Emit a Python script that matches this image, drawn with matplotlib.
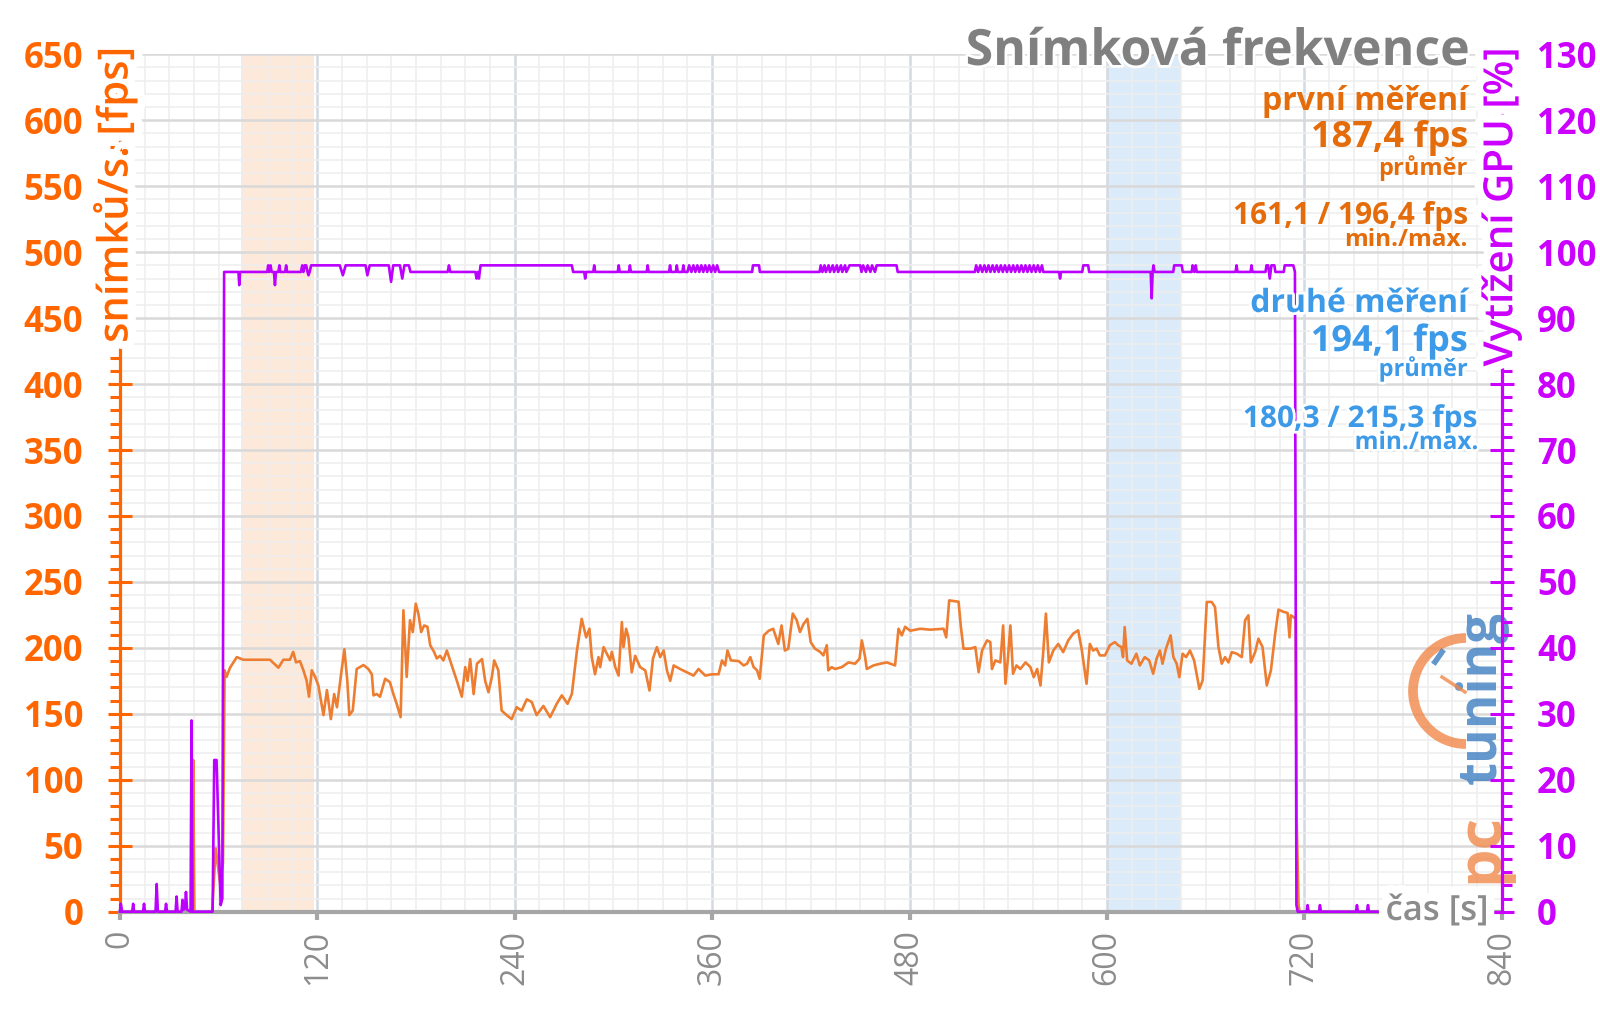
import matplotlib
matplotlib.use('Agg')
import matplotlib.pyplot as plt
import matplotlib.patheffects as pe
from matplotlib.ticker import MultipleLocator
from matplotlib.patches import Arc

plt.rcParams['font.family'] = ['Open Sans', 'DejaVu Sans']

# frame rate over time: (s, fps)
fps_series = [
    (0, 0), (43.8, 0), (44.5, 115), (45.2, 0), (56, 0), (58.2, 48), (60.8, 22), (62.6, 37), (63.6, 183),
    (64.8, 178), (66.9, 185), (71, 193), (75, 191), (83.1, 191), (91.2, 191), (96.3, 185), (99.3, 191),
    (103.3, 191), (105.3, 197), (107, 189), (109.4, 190), (111.5, 183), (113.5, 175), (114.9, 163),
    (116.6, 183), (118.6, 178), (120.6, 171.5), (123.7, 149), (125.8, 168), (128.2, 146), (130.2, 165),
    (131.9, 155), (134.2, 178), (136.4, 199), (138.2, 175), (139.4, 149), (141.5, 152.5), (143.9, 184),
    (148, 187), (151, 184), (153.1, 180), (154.1, 164), (156.1, 165), (158.1, 163), (161.2, 176.6),
    (164.1, 174), (166.2, 165), (168.2, 157.6), (170.6, 147.5), (172.3, 228.5), (174.3, 178),
    (176.3, 221), (178, 212), (179.8, 233.5), (181.4, 226), (183.1, 212), (184.9, 217), (186.9, 216),
    (188.6, 202), (190.9, 197), (192.6, 192), (194.6, 194), (196.6, 190.5), (198.7, 198), (200.7, 190.5),
    (204.8, 175), (207.8, 163), (209.9, 185.4), (211.3, 175), (212.9, 191.5), (215, 165), (217, 188),
    (220.1, 191.5), (222, 175), (224, 166.4), (226.1, 178), (227.5, 190.5), (230, 183), (232, 152.5),
    (235.1, 149), (238.1, 146), (241.2, 155), (244.2, 152.5), (247.3, 161), (250.3, 159), (253.3, 149),
    (257.4, 156), (261.5, 147.5), (265.5, 157.6), (268.6, 164), (272.1, 157.6), (274.7, 165),
    (277.8, 198), (280.7, 222), (283.4, 208), (285.4, 214.5), (286.8, 193), (288.8, 180), (290.9, 193),
    (291.9, 185.4), (294, 200.6), (296, 195.6), (298, 190.5), (299, 197), (301.1, 185.4), (303.1, 179),
    (305.1, 219.6), (306.1, 200.6), (307.7, 214.5), (309.1, 208), (311.1, 181.5), (313.2, 194),
    (316.2, 185.4), (319.3, 183), (321.9, 167.7), (324, 191.8), (326.4, 200.6), (328.4, 193),
    (330.5, 198), (332.5, 183), (334.5, 175), (336.6, 186.7), (340.5, 184), (344.6, 181.5), (348.7, 179),
    (351.7, 184), (355.8, 179), (359.9, 180), (363.9, 180), (366, 190.5), (367.9, 186.7), (369.3, 198),
    (371.4, 190.5), (376.1, 190), (379.1, 186.7), (381.2, 188), (383.2, 193), (385.2, 185.4),
    (387.3, 183), (388.9, 176.6), (391.4, 209.5), (394.4, 213), (397.1, 214.5), (400.2, 203),
    (402.2, 217), (404.2, 198), (406.3, 199.4), (409, 226), (411.4, 221), (413.4, 212), (415.5, 218),
    (417.9, 222), (419.9, 204.4), (422.5, 199.4), (425.6, 197), (427.6, 194.3), (429.7, 202),
    (430.6, 183), (432.7, 185.4), (434.7, 184), (438.8, 185.4), (442.9, 189), (446.9, 188),
    (449.6, 191.8), (451, 205.7), (453, 193), (454, 184), (458.1, 186.7), (462.2, 188), (466.2, 189),
    (471.2, 186.7), (473.3, 214.5), (475.3, 209.5), (477.3, 216), (480.4, 213), (486.5, 214.5),
    (492.6, 213.8), (500.7, 214.5), (502.3, 208), (504.1, 236), (509.8, 235), (511.2, 216),
    (512.8, 199.4), (516.9, 199.4), (520, 200.6), (522, 181.6), (524.1, 198), (527.1, 205.7),
    (529.1, 204.4), (530.1, 184), (532.2, 190.5), (535.2, 189), (536.9, 217), (538.3, 172.8),
    (539.7, 190.5), (541.3, 217), (542.9, 180.4), (545, 186.7), (547.4, 184), (550.5, 189),
    (553.5, 185.4), (555.5, 177.8), (557.6, 184), (559.6, 171.5), (561.2, 195.6), (562.9, 226),
    (564.7, 189), (567.4, 198), (570.4, 203), (573.4, 196.8), (576.5, 205.7), (579.5, 210.8),
    (582.5, 213.3), (584.6, 199.4), (587.6, 172.8), (589.6, 203), (591.6, 198), (593.7, 199.4),
    (595.7, 194.3), (598.8, 194.3), (601.8, 202), (604.8, 204.4), (606.8, 202), (608.8, 200.6),
    (609.8, 193), (610.8, 215.8), (612.3, 190.5), (614.9, 188), (617.9, 195.6), (620, 186.7),
    (623, 193), (625.7, 190.5), (628.1, 180.4), (630.2, 191.8), (632.2, 198), (633.8, 188),
    (635.9, 199.4), (638.7, 209.5), (640.4, 193), (642.4, 188), (644, 177.8), (646, 195.6),
    (648.1, 193), (650.5, 198), (653, 190.5), (656.2, 169), (658.2, 175.3), (660.7, 234.8),
    (663.7, 234.8), (665.7, 231), (667.8, 200.6), (669.8, 188), (671.8, 193), (673.9, 189),
    (675.9, 196.8), (678.9, 195.6), (682, 193), (684, 220.9), (686, 224.7), (687.5, 189),
    (690.1, 196.8), (692.1, 207), (694.6, 200.6), (697.2, 171.5), (699.7, 183), (702.3, 210.8),
    (704.3, 229), (707.4, 227.3), (709.8, 226.5), (711, 208), (711.8, 224.7), (713.4, 223.4),
    (714.8, 222), (715.3, 73), (716.5, 5), (717.2, 0), (767, 0),
]

# GPU load over time: (s, %)
gpu_series = [
    (0, 0), (0.5, 1.2), (1.3, 0), (7.4, 0), (8, 1.2), (8.6, 0), (14, 0), (14.6, 1.2), (15.2, 0),
    (21.6, 0), (22.3, 4.2), (23, 0), (27.4, 0), (28, 1.2), (28.6, 0), (33.8, 0), (34.4, 2.3), (35, 0),
    (37.4, 0), (38, 1.8), (38.6, 0.3), (39.5, 0.5), (40.1, 3), (40.8, 0.3), (42.9, 0), (43.5, 29),
    (44.1, 0), (56.3, 0), (57.3, 23), (58.7, 23), (61.2, 1), (62.2, 2), (63.3, 97),
    (72, 97), (72.5, 95), (73, 97), (89.5, 97), (90.1, 98), (90.7, 97), (91.5, 98), (92.2, 97),
    (93.6, 97), (94.2, 95), (94.8, 97), (96.3, 97), (96.9, 98), (97.5, 97), (100.4, 97), (101, 98),
    (101.6, 97), (110, 97), (110.8, 98), (111.5, 97), (112.3, 98), (113.2, 98), (114, 97),
    (114.6, 96.5), (115.3, 97), (116.2, 98), (133.6, 98), (135.5, 96.5), (137.2, 98),
    (149.3, 98), (150.4, 96.5), (151.8, 98), (163.4, 98), (164.8, 95.5), (166.1, 98), (170.2, 98),
    (171.6, 96), (172.9, 98), (175.6, 98), (176.6, 97), (199.2, 97), (200, 98), (200.8, 97),
    (216, 97), (216.8, 96), (217.5, 97), (218.2, 96), (219.2, 98), (274.7, 98), (275.5, 97),
    (282.2, 97), (282.8, 96), (283.4, 97), (287.7, 97), (288.3, 98), (288.9, 97),
    (302.6, 97), (303.2, 98), (303.8, 97), (309.4, 97), (310, 98), (310.6, 97), (320.2, 97),
    (320.8, 98), (321.4, 97), (333.8, 97), (334.4, 98), (335, 97), (337.9, 97), (338.5, 98),
    (339.1, 97), (341.9, 97), (342.5, 98), (343.1, 97), (345, 97), (346, 98), (347.4, 97),
    (348.6, 98), (349.8, 97), (351, 98), (352.2, 97), (353.4, 98), (354.6, 97), (355.8, 98),
    (357, 97), (358.2, 98), (359.4, 97), (360.6, 98), (361.8, 97), (363, 98), (364.2, 97),
    (384.3, 97), (384.8, 98), (388.5, 98), (389, 97), (425.3, 97), (426, 98), (427, 97),
    (428.3, 98), (429.1, 97), (430.8, 98), (431.6, 97), (433.3, 98), (434.1, 97), (435.8, 98),
    (436.6, 97), (438.3, 98), (439.1, 97), (440.8, 98), (441.6, 97), (443.5, 98),
    (450, 98), (450.8, 97), (451.8, 98), (453.5, 97), (454.5, 98), (456.2, 97), (457.2, 98),
    (459, 97), (460, 98), (472.1, 98), (472.8, 97),
    (519.7, 97), (520.5, 98), (521.7, 97), (523, 98), (524.2, 97), (525.5, 98), (526.7, 97),
    (528, 98), (529.2, 97), (530.5, 98), (531.7, 97), (533, 98), (534.2, 97), (535.5, 98),
    (536.7, 97), (538, 98), (539.2, 97), (540.5, 98), (541.7, 97), (543, 98), (544.2, 97),
    (545.5, 98), (546.7, 97), (548, 98), (549.2, 97), (550.5, 98), (551.7, 97), (553, 98),
    (554.2, 97), (555.5, 98), (556.7, 97), (558, 98), (559.2, 97), (560.5, 98), (561.3, 97),
    (570.9, 97), (571.5, 96), (572.1, 97), (585, 97), (585.6, 98), (588.6, 98), (589.2, 97),
    (626.6, 97), (627.2, 93), (627.8, 97), (628.3, 98), (629, 97), (640.3, 97), (640.9, 98),
    (645.5, 98), (646.1, 97), (651.5, 97), (652.1, 98), (653.1, 97), (654, 98), (654.6, 97),
    (678.2, 97), (678.8, 98), (679.4, 97), (687.3, 97), (687.9, 98), (688.5, 97), (696.4, 97),
    (697, 98), (698, 98), (699, 96), (700, 98), (701.8, 98), (702.4, 97), (707.5, 97), (708.1, 98),
    (713.3, 98), (714.3, 97), (715.2, 1), (716, 0), (721.4, 0), (722, 1), (722.6, 0), (728.9, 0),
    (729.5, 1), (730.1, 0), (751.4, 0), (752, 1), (752.6, 0), (758.1, 0), (758.7, 1), (759.3, 0),
    (767, 0),
]

band_first = (73.5, 118)
band_second = (600, 645)
x_ticks = [0, 120, 240, 360, 480, 600, 720, 840]
fps_ticks = list(range(0, 651, 50))
gpu_ticks = list(range(0, 131, 10))

first_lines = ['první měření', '187,4 fps', 'průměr', '161,1 / 196,4 fps', 'min./max.']
second_lines = ['druhé měření', '194,1 fps', 'průměr', '180,3 / 215,3 fps', 'min./max.']

ORANGE = '#FF6600'
FPS_LINE = '#ED7D31'
PURPLE = '#CC00FF'
GRAY = '#8C8C8C'
TXT_ORANGE = '#E46C0A'
TXT_BLUE = '#3C9AE8'

W, H = 1600, 1009
fig = plt.figure(figsize=(16, 10.09), dpi=100)
ax = fig.add_axes([120 / W, 1 - 911.7 / H, (1501.7 - 120) / W, (911.7 - 54.3) / H])
ax2 = ax.twinx()

# shaded measuring windows
ax.axvspan(*band_first, color='#FDE9D9', zorder=0.2, lw=0)
ax.axvspan(*band_second, color='#DCEBFA', zorder=0.2, lw=0)

ax.plot([p[0] for p in fps_series], [p[1] for p in fps_series],
        color=FPS_LINE, lw=1.9, zorder=2, clip_on=False)
ax2.plot([p[0] for p in gpu_series], [p[1] for p in gpu_series],
         color='#BB00FF', lw=1.9, zorder=2, clip_on=False)

ax.set_xlim(0, 840)
ax.set_ylim(0, 650)
ax2.set_ylim(0, 130)

# grid
ax.set_axisbelow(True)
ax.xaxis.set_major_locator(MultipleLocator(120))
ax.xaxis.set_minor_locator(MultipleLocator(15))
ax.yaxis.set_major_locator(MultipleLocator(50))
ax.yaxis.set_minor_locator(MultipleLocator(10))
ax.grid(which='major', axis='y', color='#D9D9D9', lw=1.8)
ax.grid(which='major', axis='x', color='#D3D9E2', lw=1.8)
ax.grid(which='minor', color='#EEEEEE', lw=1.1)

for s in ['top', 'right']:
    ax.spines[s].set_visible(False)
for s in ['top', 'left', 'bottom']:
    ax2.spines[s].set_visible(False)
ax.spines['left'].set_color(ORANGE)
ax.spines['left'].set_linewidth(2.3)
ax.spines['bottom'].set_color('#A6A6A6')
ax.spines['bottom'].set_linewidth(3)
ax2.spines['right'].set_color(PURPLE)
ax2.spines['right'].set_linewidth(2.3)

ax.set_xticks(x_ticks)
ax.set_xticklabels([str(v) for v in x_ticks], rotation=90, color=GRAY, fontsize=23)
ax.tick_params(axis='x', which='major', direction='out', length=6, width=3, color='#A6A6A6', pad=7)
ax.tick_params(axis='x', which='minor', length=0)

ax.set_yticks(fps_ticks)
ax.set_yticklabels([str(v) for v in fps_ticks], color=ORANGE, fontsize=25, fontweight='bold')
ax.tick_params(axis='y', which='major', direction='inout', length=17, width=2.2, color=ORANGE, pad=18)
ax.tick_params(axis='y', which='minor', direction='out', length=7, width=2.2, color=ORANGE)

ax2.yaxis.set_major_locator(MultipleLocator(10))
ax2.yaxis.set_minor_locator(MultipleLocator(2))
ax2.set_yticks(gpu_ticks)
ax2.set_yticklabels([str(v) for v in gpu_ticks], color=PURPLE, fontsize=25, fontweight='bold')
ax2.tick_params(axis='y', which='major', direction='inout', length=17, width=2.2, color=PURPLE, pad=17)
ax2.tick_params(axis='y', which='minor', direction='out', length=7, width=2.2, color=PURPLE)

# pctuning watermark (behind the right spine)
logo_kw = dict(transform=fig.transFigure, rotation=90, ha='center', va='center',
               fontweight='bold', alpha=0.8, zorder=1)
ax2.text(1482 / W, 1 - 698 / H, 'tuning', color='#3D7EC0', fontsize=38, **logo_kw)
ax2.text(1482 / W, 1 - 848 / H, 'pc', color='#F0884A', fontsize=44, **logo_kw)
ax2.add_patch(Arc((1466 / W, 1 - 691 / H), 106 / W, 106 / H, theta1=90, theta2=270,
                  transform=fig.transFigure, color='#F0884A', lw=7, alpha=0.8, zorder=1))
ax2.plot([1442 / W, 1465 / W], [1 - 677 / H, 1 - 692 / H], transform=fig.transFigure,
         color='#F0884A', lw=2.5, alpha=0.8, zorder=1)
ax2.plot([1435 / W, 1442 / W], [1 - 662 / H, 1 - 652 / H], transform=fig.transFigure,
         color='#3D7EC0', lw=4, alpha=0.8, zorder=1)

knock = [pe.withStroke(linewidth=12, foreground='white')]
thin_knock = [pe.withStroke(linewidth=4, foreground='white')]

fig.text(1470 / W, 1 - 65 / H, 'Snímková frekvence', ha='right', va='baseline', fontsize=36,
         fontweight='bold', color='#808080', path_effects=thin_knock)
fig.text(115 / W, 1 - 195 / H, 'snímků/s. [fps]', rotation=90, ha='center', va='center',
         fontsize=30, fontweight='semibold', color=ORANGE, path_effects=knock)
fig.text(1502 / W, 1 - 207 / H, 'Vytížení GPU [%]', rotation=90, ha='center', va='center',
         fontsize=29, fontweight='semibold', color=PURPLE, path_effects=knock)
fig.text(1437 / W, 1 - 911 / H, 'čas [s]', ha='center', va='center', fontsize=25,
         fontweight='semibold', color=GRAY, path_effects=knock)

# measurement summaries
sizes = [23, 26, 17, 21.5, 17.5]
first_base = [110, 147, 175, 224, 246]
second_base = [312, 351, 376, 427, 449]
for txt, fs, yb in zip(first_lines, sizes, first_base):
    fig.text(1468 / W, 1 - yb / H, txt, ha='right', va='baseline', fontsize=fs,
             fontweight='bold', color=TXT_ORANGE)
for i, (txt, fs, yb) in enumerate(zip(second_lines, sizes, second_base)):
    xr = 1478 if i >= 3 else 1468
    fig.text(xr / W, 1 - yb / H, txt, ha='right', va='baseline', fontsize=fs,
             fontweight='bold', color=TXT_BLUE, path_effects=thin_knock)

fig.savefig('out.png', dpi=100)
